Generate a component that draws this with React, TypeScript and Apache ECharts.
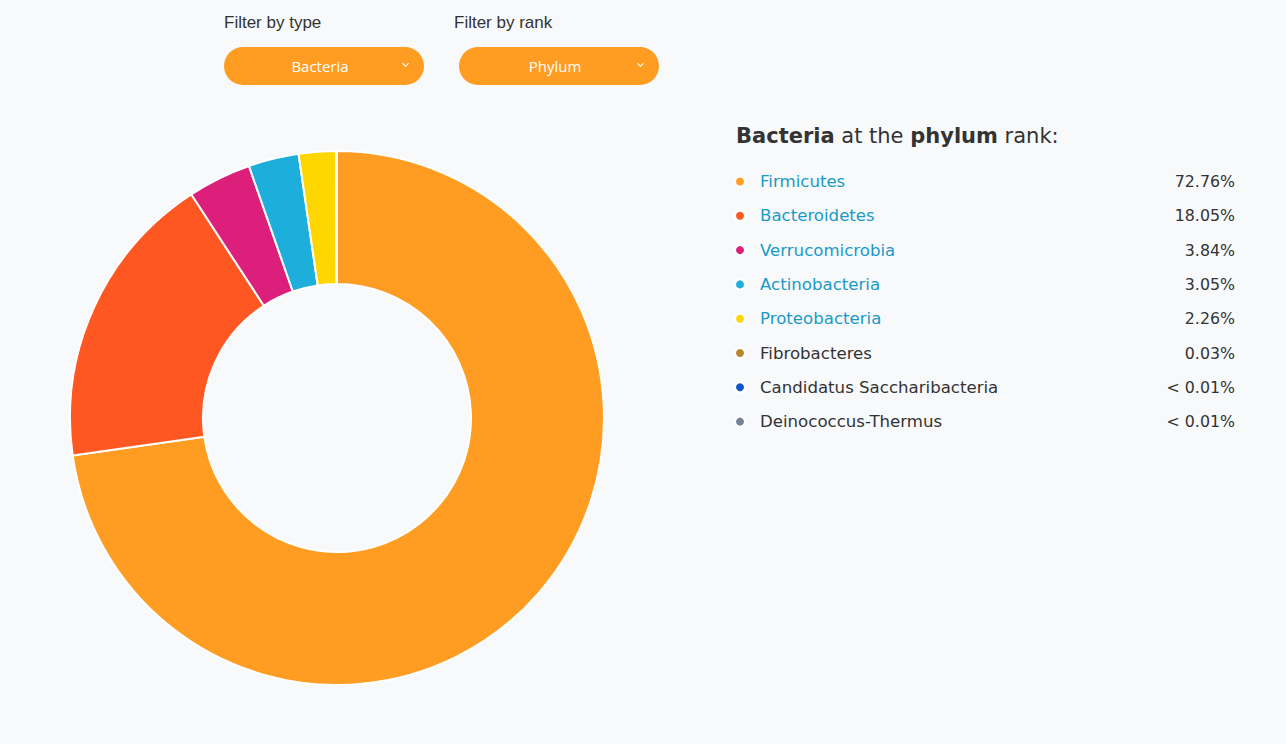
import React, { useEffect, useRef } from 'react';
import * as echarts from 'echarts';

// phylum composition of the selected type
const phyla = [
    'Firmicutes',
    'Bacteroidetes',
    'Verrucomicrobia',
    'Actinobacteria',
    'Proteobacteria',
    'Fibrobacteres',
    'Candidatus Saccharibacteria',
    'Deinococcus-Thermus'
];
const shares = [72.76, 18.05, 3.84, 3.05, 2.26, 0.03, 0.005, 0.005];
const colors = [
    '#ff9c22',
    '#ff5722',
    '#dc1f7b',
    '#1eaedb',
    '#ffd600',
    '#b8862b',
    '#1155cc',
    '#76829a'
];
// the first five names are links on the page
const linked = [true, true, true, true, true, false, false, false];

const typeLabel = 'Filter by type';
const typeValue = 'Bacteria';
const rankLabel = 'Filter by rank';
const rankValue = 'Phylum';

const FONT = '"DejaVu Sans", "Noto Sans", sans-serif';
const UI = '"Open Sans", "Noto Sans", sans-serif';
const SANS = '"Liberation Sans", Arial, sans-serif';

const fmt = (v: number) => (v < 0.01 ? '< 0.01%' : v.toFixed(2) + '%');

const Select: React.FC<{ label: string; value: string; left: number; labelShift?: number }> = ({ label, value, left, labelShift = 0 }) => (
    <div style={{ position: 'absolute', left, top: 13 }}>
        <div style={{ fontFamily: SANS, fontSize: 17, color: '#333', marginLeft: labelShift, lineHeight: '20px' }}>
            {label}
        </div>
        <div
            style={{
                marginTop: 14,
                width: 200,
                height: 38,
                borderRadius: 19,
                background: '#ff9c22',
                color: '#fff',
                fontFamily: UI,
                fontSize: 15,
                lineHeight: '38px',
                textAlign: 'center',
                position: 'relative',
                paddingRight: 8,
                boxSizing: 'border-box'
            }}
        >
            {value}
            <span
                style={{
                    position: 'absolute',
                    right: 16,
                    top: 14,
                    width: 4,
                    height: 4,
                    borderRight: '1.3px solid #fff',
                    borderBottom: '1.3px solid #fff',
                    transform: 'rotate(45deg)'
                }}
            />
        </div>
    </div>
);

const App: React.FC = () => {
    const chartRef = useRef<HTMLDivElement>(null);

    useEffect(() => {
        if (!chartRef.current) return;
        const chart = echarts.init(chartRef.current, undefined, { renderer: 'svg' });

        const option = {
            animation: false,
            color: colors,
            title: {
                left: 731,
                top: 120,
                text: '{b|Bacteria}{n| at the }{b|phylum}{n| rank:}',
                textStyle: {
                    fontWeight: 'normal',
                    rich: {
                        b: { fontFamily: FONT, fontWeight: 'bold', fontSize: 21, color: '#333' },
                        n: { fontFamily: FONT, fontWeight: 'normal', fontSize: 21, color: '#333' }
                    }
                }
            },
            legend: {
                orient: 'vertical',
                left: 729,
                top: 168,
                icon: 'circle',
                itemWidth: 10,
                itemHeight: 10,
                itemGap: 17.3,
                selectedMode: false,
                data: phyla,
                formatter: (name: string) => {
                    const i = phyla.indexOf(name);
                    return `{${linked[i] ? 'link' : 'plain'}|${name}}{pct|${fmt(shares[i])}}`;
                },
                textStyle: {
                    fontFamily: FONT,
                    fontSize: 16,
                    rich: {
                        link: { fontFamily: FONT, fontSize: 16.6, color: '#1a9ac6', width: 381, padding: [0, 0, 0, 10] },
                        plain: { fontFamily: FONT, fontSize: 16.6, color: '#333', width: 381, padding: [0, 0, 0, 10] },
                        pct: { fontFamily: FONT, fontSize: 15.8, color: '#333', width: 94, align: 'right' }
                    }
                }
            },
            series: [
                {
                    type: 'pie',
                    center: [337, 418],
                    radius: [134, 267],
                    startAngle: 90,
                    clockwise: true,
                    label: { show: false },
                    labelLine: { show: false },
                    emphasis: { scale: false },
                    itemStyle: { borderColor: '#fff', borderWidth: 2 },
                    data: phyla.map((name, i) => ({ name, value: shares[i] }))
                }
            ]
        };

        chart.setOption(option);
        return () => {
            chart.dispose();
        };
    }, []);

    return (
        <div style={{ position: 'fixed', left: 0, top: 0, width: 1286, height: 744, background: '#f8f9fb', overflow: 'hidden' }}>
            <div ref={chartRef} style={{ position: 'absolute', left: 0, top: 0, width: 1286, height: 744 }} />
            <Select label={typeLabel} value={typeValue} left={224} />
            <Select label={rankLabel} value={rankValue} left={459} labelShift={-5} />
        </div>
    );
};

export default App;
